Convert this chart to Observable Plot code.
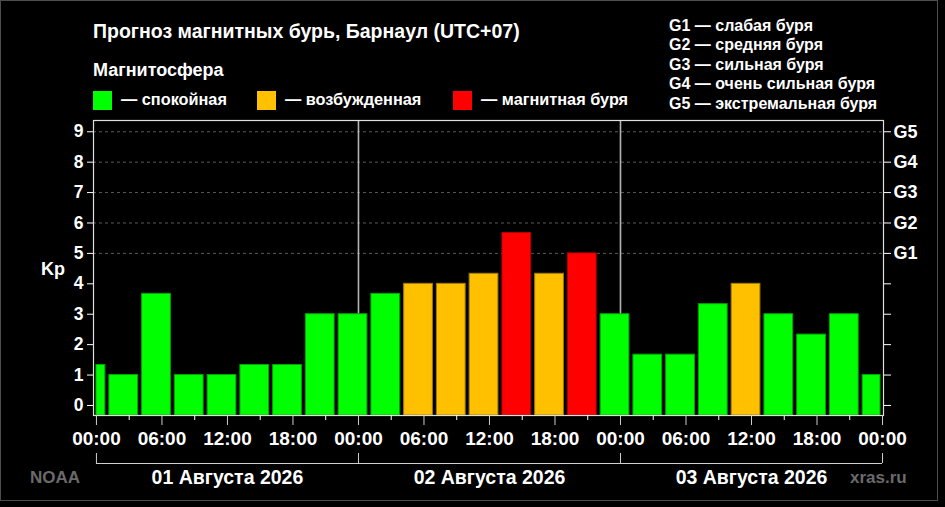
<!DOCTYPE html>
<html>
<head>
<meta charset="utf-8">
<script src="https://cdn.jsdelivr.net/npm/d3@7"></script>
<script src="https://cdn.jsdelivr.net/npm/@observablehq/plot@0.6"></script>
<style>
  html, body { margin: 0; padding: 0; background: #000; }
  #wrap { position: relative; width: 945px; height: 507px; background: #000; overflow: hidden;
          font-family: "Liberation Sans", Arial, sans-serif; font-weight: bold; color: #fff; }
  #wrap svg { position: absolute; left: 0; top: 0; }
  .t { position: absolute; white-space: nowrap; line-height: 1; }
  .border { position: absolute; left: 0; top: 0; width: 936px; height: 499px; border: 1px solid #4d4d4d; pointer-events: none; }
  .sw { position: absolute; width: 19px; height: 19px; top: 91px; }
  #scale { position: absolute; left: 669px; top: 16px; font-size: 16px; line-height: 19.4px; white-space: nowrap; }
</style>
</head>
<body>
<div id="wrap"></div>
<script>
// ---- data ----
const startHours = [-2, 1, 4, 7, 10, 13, 16, 19, 22, 25, 28, 31, 34, 37, 40, 43, 46, 49, 52, 55, 58, 61, 64, 67, 70];
const kpValues   = [1.33, 1, 3.67, 1, 1, 1.33, 1.33, 3, 3, 3.67, 4, 4, 4.33, 5.67, 4.33, 5, 3, 1.67, 1.67, 3.33, 4, 3, 2.33, 3, 1];
const hourTicks  = [0, 6, 12, 18, 24, 30, 36, 42, 48, 54, 60, 66, 72];
const minorTicks = [3, 9, 15, 21, 27, 33, 39, 45, 51, 57, 63, 69];
const dayBounds  = [0, 24, 48, 72];
const dayCenters = [12, 36, 60];
const dayLabels  = ["01 Августа 2026", "02 Августа 2026", "03 Августа 2026"];
const kpTicks    = [0, 1, 2, 3, 4, 5, 6, 7, 8, 9];
const gTicks     = [5, 6, 7, 8, 9];
const gLabels    = ["G1", "G2", "G3", "G4", "G5"];
const gridKp     = [5, 6, 7, 8, 9];
const levelNames = ["— спокойная", "— возбужденная", "— магнитная буря"];
const levelFill  = ["#00ff00", "#ffc000", "#ff0000"];
const levelEdge  = ["#00a800", "#a07c00", "#b00000"];
const scaleText  = ["G1 — слабая буря", "G2 — средняя буря", "G3 — сильная буря", "G4 — очень сильная буря", "G5 — экстремальная буря"];
const titleText  = "Прогноз магнитных бурь, Барнаул (UTC+07)";
const legendTitle = "Магнитосфера";

// ---- derived table ----
const dayStart = 0, dayEnd = 72;
const level = kp => kp >= 5 ? 2 : kp >= 4 ? 1 : 0;
const rows = startHours.map((s, i) => ({
  x1: Math.max(s, dayStart),
  x2: Math.min(s + 3, dayEnd),
  kp: kpValues[i],
  lv: level(kpValues[i])
}));
const yMin = -0.33, yMax = 9.37;
const xDomain = [-0.27, 72.09];

const barOpts = {
  x1: "x1", x2: "x2", y1: yMin, y2: "kp",
  fill: d => levelFill[d.lv], stroke: d => levelEdge[d.lv], strokeWidth: 1
};

const plot = Plot.plot({
  width: 945, height: 507,
  marginLeft: 93, marginRight: 62, marginTop: 120, marginBottom: 92,
  x: { domain: xDomain },
  y: { domain: [yMin, yMax] },
  color: { type: "identity" },
  style: { background: "transparent", color: "#fff", fontFamily: "'Liberation Sans', Arial, sans-serif", fontWeight: "bold", overflow: "visible" },
  marks: [
    Plot.ruleY(gridKp, { stroke: "#5a5a5a", strokeDasharray: "3,3", strokeWidth: 1 }),
    Plot.ruleX([24, 48], { stroke: "#b4b4b4", strokeWidth: 1.6 }),
    Plot.rect(rows, { ...barOpts, insetLeft: 0, insetRight: 2, filter: (d, i) => i === 0 }),
    Plot.rect(rows, { ...barOpts, insetLeft: 2, insetRight: 2, filter: (d, i) => i > 0 }),
    Plot.frame({ stroke: "#e0e0e0", strokeWidth: 1.2 }),
    Plot.axisY({ anchor: "left", ticks: kpTicks, tickSize: 6, tickPadding: 4, fontSize: 17.5, fontWeight: "bold", stroke: "#fff", fill: "#fff", label: null }),
    Plot.axisY({ anchor: "right", ticks: kpTicks, tickSize: 7, tickPadding: 3, fontSize: 18, fontWeight: "bold", stroke: "#fff", fill: "#fff", label: null,
      tickFormat: d => gTicks.indexOf(d) >= 0 ? gLabels[gTicks.indexOf(d)] : "" }),
    Plot.axisX({ ticks: hourTicks, tickSize: 10, tickPadding: 6, fontSize: 19, fontWeight: "bold", stroke: "#cfcfcf", fill: "#fff", label: null,
      tickFormat: h => String(h % 24).padStart(2, "0") + ":00" }),
    Plot.axisX({ ticks: minorTicks, tickSize: 5, stroke: "#fff", label: null, tickFormat: () => "" }),
    Plot.axisX({ ticks: dayBounds, tickSize: 10, dy: 38, stroke: "#cfcfcf", label: null, tickFormat: () => "" }),
    Plot.ruleY([yMin], { x1: dayStart, x2: dayEnd, dy: 48, stroke: "#cfcfcf", strokeWidth: 1.2 }),
    Plot.axisX({ ticks: dayCenters, tickSize: 0, tickPadding: 55, fontSize: 19.5, fontWeight: "bold", fill: "#fff", label: null,
      tickFormat: d => dayLabels[dayCenters.indexOf(d)] })
  ]
});

const wrap = document.getElementById("wrap");
wrap.appendChild(plot);

function addText(txt, left, top, size, color) {
  const el = document.createElement("div");
  el.className = "t";
  el.textContent = txt;
  el.style.left = left + "px";
  el.style.top = top + "px";
  el.style.fontSize = size + "px";
  if (color) el.style.color = color;
  wrap.appendChild(el);
  return el;
}
addText(titleText, 93, 21.8, 19.5);
addText(legendTitle, 93, 60.8, 18);
const swX = [93, 257, 453];
const txX = [121, 285, 481];
levelNames.forEach((n, i) => {
  const s = document.createElement("div");
  s.className = "sw";
  s.style.left = swX[i] + "px";
  s.style.background = levelFill[i];
  wrap.appendChild(s);
  addText(n, txX[i], 91.3, 16.3);
});
const sc = document.createElement("div");
sc.id = "scale";
sc.innerHTML = scaleText.map(s => "<div>" + s + "</div>").join("");
wrap.appendChild(sc);
addText("Kp", 41, 260, 18);
addText("NOAA", 30, 469, 17, "#6a6a6a");
addText("xras.ru", 850, 468.5, 17, "#6a6a6a");
const b = document.createElement("div");
b.className = "border";
wrap.appendChild(b);
</script>
</body>
</html>
